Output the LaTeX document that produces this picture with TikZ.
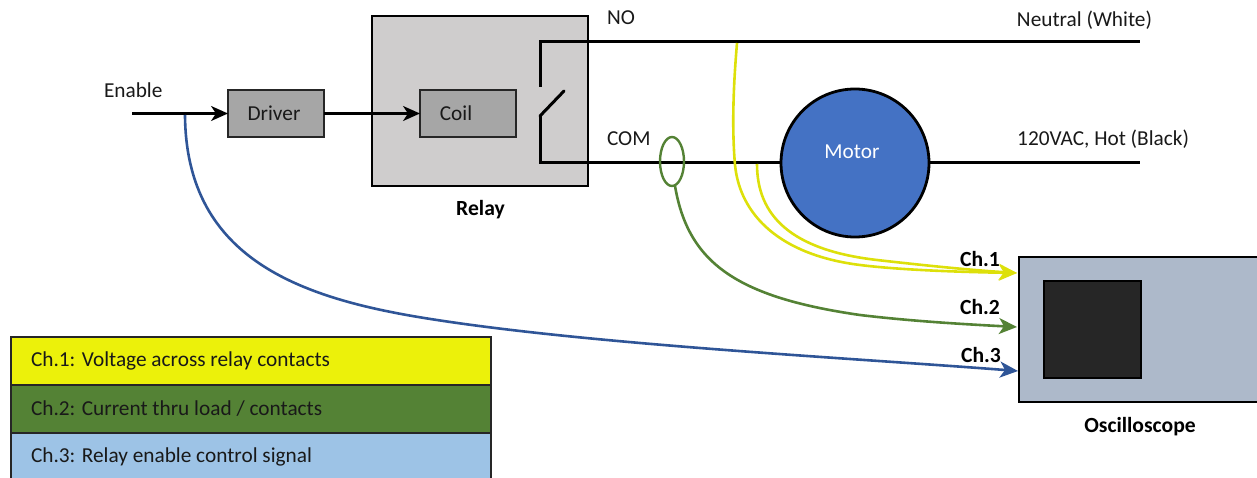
\documentclass[tikz,border=0pt]{standalone}
\usepackage{fontspec}
\setmainfont{Carlito}
\definecolor{relaygray}{HTML}{CFCDCD}
\definecolor{coilgray}{HTML}{A6A6A6}
\definecolor{motorblue}{HTML}{4472C4}
\definecolor{scopeblue}{HTML}{ADB9CA}
\definecolor{screen}{HTML}{262626}
\definecolor{chyellow}{HTML}{DDE00A}
\definecolor{chgreen}{HTML}{548235}
\definecolor{chblue}{HTML}{2F5597}
\definecolor{rowyellow}{HTML}{ECF10A}
\definecolor{rowblue}{HTML}{9DC3E6}
\usetikzlibrary{arrows.meta}
\tikzset{
  x=1pt,y=-1pt,
  every node/.style={font=\fontsize{21.3}{23}\selectfont,inner sep=0pt,outer sep=0pt,text=black!90},
  boxed/.style={draw=black!85,line width=1.8pt,minimum width=96pt,minimum height=47pt,fill=coilgray},
  wire/.style={draw=black,line width=3pt},
  signal/.style={draw=black,line width=2.2pt,-{Stealth[length=17pt,width=15pt,inset=5pt]}},
  probe/.style={line width=2.6pt,-{Stealth[length=18pt,width=16pt,inset=5pt]}},
  row/.style={draw=black!85,line width=1.5pt,minimum width=480pt,minimum height=48pt,anchor=north west,inner xsep=20pt,text width=440pt,align=flush left},
  bold lbl/.style={font=\fontsize{21.6}{23}\selectfont\bfseries,text=black}
}
\begin{document}
\begin{tikzpicture}
\useasboundingbox (0,0) rectangle (1257,478);
\clip (0,0) rectangle (1257,478);
\node[draw=black,line width=2.6pt,fill=relaygray,minimum width=216pt,minimum height=170pt] (relay) at (480,101) {};
\node[boxed] (coil) at (468,113.5) {};
\node (coillabel) at (456,113.5) {Coil};
\node[boxed] (driver) at (276,113.5) {};
\node (driverlabel) at (274,113.5) {Driver};
\node[anchor=west] (enable) at (104,90) {Enable};
\coordinate (in) at (132,113.5);
\coordinate (tap) at (185,115);
\draw[signal] (in) -- (driver.west);
\draw[signal] (driver.east) -- (coil.west);
\node[bold lbl] (relaylabel) at (480.5,209.5) {Relay};
\node[anchor=west] (no) at (607,18) {NO};
\node[anchor=west] (com) at (607,139) {COM};
\node[anchor=east] (neutral) at (1152,20) {Neutral (White)};
\node[anchor=east] (hot) at (1189,139) {120VAC, Hot (Black)};
\coordinate (neutralend) at (1140,42);
\coordinate (hotend) at (1140,163);
\coordinate (nocorner) at (540,42);
\coordinate (nopin) at (540,87);
\coordinate (compin) at (540,116);
\coordinate (comcorner) at (540,163);
\coordinate (blade) at (564,91);
\node[draw=black,line width=2.8pt,fill=motorblue,circle,minimum size=148pt] (motor) at (855,163) {};
\node[text=white] (motorlabel) at (852,151.5) {Motor};
\draw[wire] (nopin) -- (nocorner) -- (neutralend);
\draw[wire,line cap=round] (compin) -- (blade);
\draw[wire] (compin) -- (comcorner) -- (motor.west);
\draw[wire] (motor.east) -- (hotend);
\node[draw=black,line width=2.6pt,fill=scopeblue,minimum width=260pt,minimum height=145pt,anchor=north west] (scope) at (1019,257) {};
\node[draw=black,line width=2.6pt,fill=screen,minimum width=97pt,minimum height=97pt,anchor=north west] (screenbox) at (1044,281) {};
\node[bold lbl] (scopelabel) at (1140,426.5) {Oscilloscope};
\node[bold lbl] (ch1) at (980,258.5) {Ch.1};
\node[bold lbl] (ch2) at (980,306.5) {Ch.2};
\node[bold lbl] (ch3) at (981,354.5) {Ch.3};
\coordinate (y1) at (737,43);
\coordinate (y2) at (757,164);
\coordinate (g1) at (675,186);
\coordinate (s1) at (1017,273);
\coordinate (s2) at (1017,327);
\coordinate (s3) at (1018,371);
\draw[probe,chyellow] (y1) .. controls (733,90) and (732,130) .. (735,165) .. controls (740,215) and (780,255) .. (860,265) .. controls (900,270) and (960,272) .. (s1);
\draw[probe,chyellow] (y2) .. controls (757,215) and (790,250) .. (877,260) .. controls (930,266) and (970,270) .. (s1);
\draw[draw=chgreen,line width=2.4pt] (672,161.5) ellipse (12 and 24.5);
\draw[probe,chgreen] (g1) .. controls (688,262) and (735,297) .. (860,315) .. controls (910,321) and (960,324) .. (s2);
\draw[probe,chblue] (tap) .. controls (186,262) and (305,300) .. (437,320) .. controls (600,345) and (850,358) .. (s3);
\node[row,fill=rowyellow] (r1) at (11,337) {Ch.1: Voltage across relay contacts};
\node[row,fill=chgreen] (r2) at (11,385) {Ch.2: Current thru load / contacts};
\node[row,fill=rowblue] (r3) at (11,433) {Ch.3: Relay enable control signal};
\end{tikzpicture}
\end{document}
